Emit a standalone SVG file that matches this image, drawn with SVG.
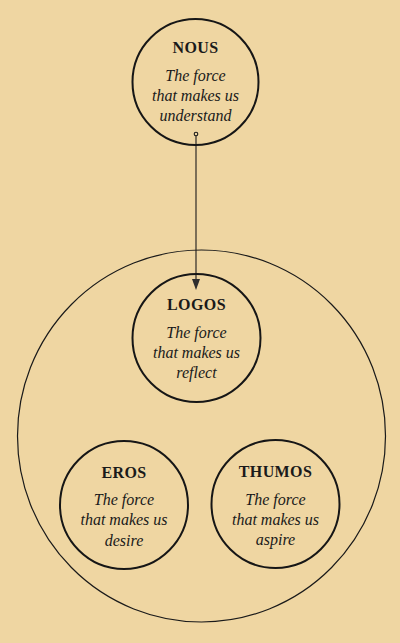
<svg xmlns="http://www.w3.org/2000/svg" width="400" height="643" viewBox="0 0 400 643">
<defs>
<style>
.bg{fill:#EFD6A2}
.node{fill:none;stroke:#161616;stroke-width:2}
.outer{fill:none;stroke:#1a1a1a;stroke-width:1.2}
.title{font-family:"Liberation Serif",serif;font-weight:bold;font-size:16px;fill:#1a1a1a;text-anchor:middle;letter-spacing:0.4px}
.body{font-family:"Liberation Serif",serif;font-style:italic;font-size:16px;fill:#1a1a1a;text-anchor:middle}
.link{stroke:#1a1a1a;stroke-width:1.1;fill:none}
</style>
<marker id="arrow" viewBox="0 0 8 11" refX="4" refY="11" markerWidth="8" markerHeight="11" markerUnits="userSpaceOnUse" orient="auto-start-reverse">
<path d="M0,0 L8,0 L4,11 Z" fill="#2e2e2e"/>
</marker>
</defs>
<rect class="bg" x="0" y="0" width="400" height="643"/>
<ellipse id="outer-circle" class="outer" cx="201.5" cy="436" rx="184" ry="186"/>
<g id="connectors">
<line class="link" x1="196" y1="135.5" x2="196" y2="279"/>
<circle cx="196" cy="134" r="1.8" fill="none" stroke="#1a1a1a" stroke-width="1.1"/>
<path d="M192,279 L200,279 L196,290 Z" fill="#2e2e2e"/>
</g>
<g id="nous">
<circle class="node" cx="195.5" cy="82" r="63"/>
<text class="title" x="195.5" y="53">NOUS</text>
<text class="body" x="195.5" y="80.5">The force</text>
<text class="body" x="195.5" y="100.5">that makes us</text>
<text class="body" x="195.5" y="120.5">understand</text>
</g>
<g id="logos">
<circle class="node" cx="196.5" cy="338" r="64"/>
<text class="title" x="196.5" y="310">LOGOS</text>
<text class="body" x="196.5" y="337.5">The force</text>
<text class="body" x="196.5" y="357.5">that makes us</text>
<text class="body" x="196.5" y="378">reflect</text>
</g>
<g id="eros">
<circle class="node" cx="124" cy="505" r="64"/>
<text class="title" x="124" y="477.5">EROS</text>
<text class="body" x="124" y="505">The force</text>
<text class="body" x="124" y="525">that makes us</text>
<text class="body" x="124" y="545.5">desire</text>
</g>
<g id="thumos">
<circle class="node" cx="275.5" cy="504" r="64"/>
<text class="title" x="275.5" y="477">THUMOS</text>
<text class="body" x="275.5" y="505">The force</text>
<text class="body" x="275.5" y="525">that makes us</text>
<text class="body" x="275.5" y="545">aspire</text>
</g>
</svg>
